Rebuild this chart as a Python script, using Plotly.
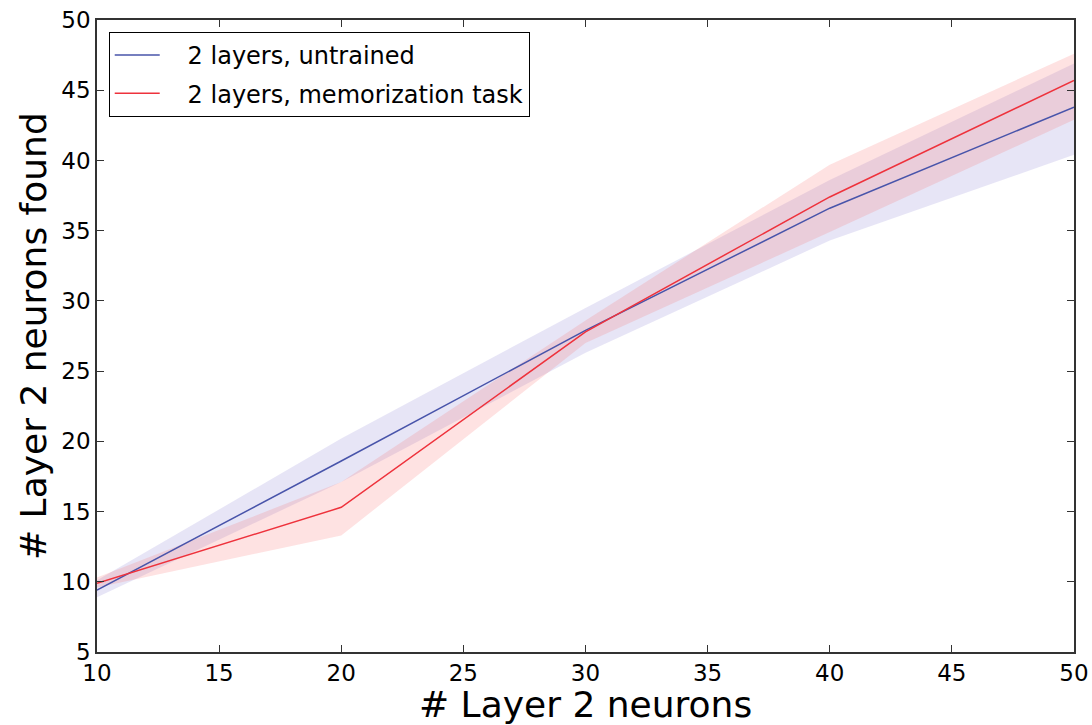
import plotly.graph_objects as go

x = [10, 20, 30, 40, 50]
untrained_mean = [9.4, 18.6, 27.9, 36.6, 43.8]
untrained_upper = [10.1, 20.2, 29.5, 38.6, 46.9]
untrained_lower = [8.9, 17.1, 26.3, 34.3, 40.4]
memo_mean = [9.9, 15.3, 27.8, 37.4, 45.7]
memo_upper = [10.3, 17.1, 28.6, 39.7, 47.6]
memo_lower = [9.6, 13.3, 27.0, 34.9, 42.9]

series_names = ["2 layers, untrained", "2 layers, memorization task"]
x_title = "# Layer 2 neurons"
y_title = "# Layer 2 neurons found"

blue = "rgb(72,84,170)"
red = "rgb(238,50,60)"
blue_fill = "rgba(110,100,200,0.17)"
red_fill = "rgba(250,110,110,0.2)"
FONT = "DejaVu Sans"
PAD = "\u00a0\u00a0\u00a0"

fig = go.Figure()
fig.add_trace(go.Scatter(x=x, y=untrained_upper, mode="lines", line=dict(width=0),
                         showlegend=False, hoverinfo="skip"))
fig.add_trace(go.Scatter(x=x, y=untrained_lower, mode="lines", line=dict(width=0),
                         fill="tonexty", fillcolor=blue_fill, showlegend=False, hoverinfo="skip"))
fig.add_trace(go.Scatter(x=x, y=memo_upper, mode="lines", line=dict(width=0),
                         showlegend=False, hoverinfo="skip"))
fig.add_trace(go.Scatter(x=x, y=memo_lower, mode="lines", line=dict(width=0),
                         fill="tonexty", fillcolor=red_fill, showlegend=False, hoverinfo="skip"))
fig.add_trace(go.Scatter(x=x, y=untrained_mean, mode="lines", line=dict(color=blue, width=1.5),
                         name=PAD + series_names[0], legendgroup="a"))
fig.add_trace(go.Scatter(x=x, y=memo_mean, mode="lines", line=dict(color=red, width=1.5),
                         name=PAD + series_names[1], legendgroup="b"))

axis_common = dict(showline=True, linecolor="#333333", linewidth=1.5, mirror="allticks",
                   ticks="inside", ticklen=7, tickcolor="#333333", showgrid=False, zeroline=False,
                   automargin=False,
                   tickfont=dict(size=23, color="black", family=FONT))

fig.update_xaxes(range=[10, 50], dtick=5, tick0=10, **axis_common)
fig.update_yaxes(range=[5, 50], dtick=5, tick0=5, **axis_common)

fig.add_annotation(text=x_title, xref="paper", yref="paper", x=0.5, y=-0.0835,
                   xanchor="center", yanchor="middle", showarrow=False,
                   font=dict(size=36, family=FONT, color="black"))
fig.add_annotation(text=y_title, xref="paper", yref="paper", x=0, xshift=-64, y=0.5,
                   xanchor="center", yanchor="middle", textangle=-90, showarrow=False,
                   font=dict(size=36, family=FONT, color="black"))

fig.update_layout(
    width=1092, height=725,
    margin=dict(l=97, r=18, t=20, b=73),
    plot_bgcolor="white", paper_bgcolor="white",
    font=dict(family=FONT, color="black"),
    showlegend=True,
    legend=dict(x=0.012, y=0.981, xanchor="left", yanchor="top",
                bordercolor="black", borderwidth=1, bgcolor="white",
                font=dict(size=24, family=FONT, color="black"),
                traceorder="grouped", tracegroupgap=4, itemwidth=45),
)

fig.write_html("out.html", config={"displayModeBar": False},
               post_script="document.body.style.margin='0';document.body.style.overflow='hidden';")
